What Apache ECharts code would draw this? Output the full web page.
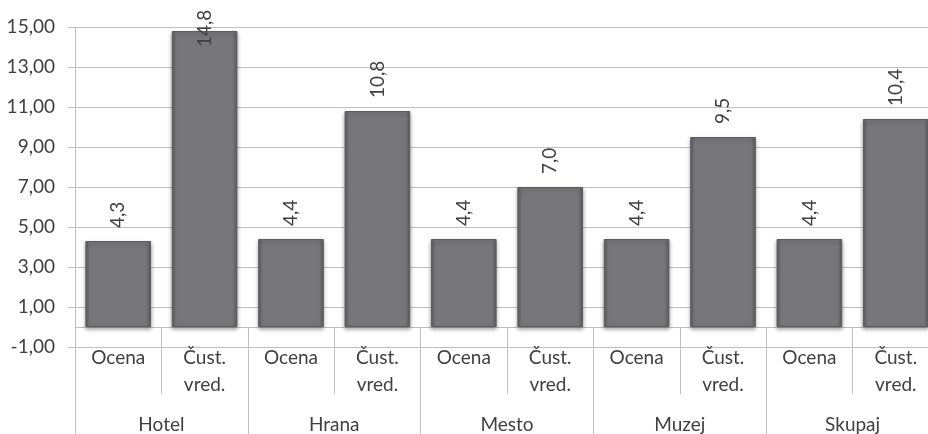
<!DOCTYPE html>
<html>
<head>
<meta charset="utf-8">
<script src="https://cdn.jsdelivr.net/npm/echarts@6/dist/echarts.min.js"></script>
<style>
  html, body { margin: 0; padding: 0; background: #fff; }
  #chart { width: 928px; height: 434px; }
</style>
</head>
<body>
<div id="chart"></div>
<script>
// data
const groups = ["Hotel", "Hrana", "Mesto", "Muzej", "Skupaj"];
const subLabels = ["Ocena", "Čust.\nvred."];
const values = [4.3, 14.8, 4.4, 10.8, 4.4, 7.0, 4.4, 9.5, 4.4, 10.4];
const yMin = -1;
const yMax = 15;
const yStep = 2;

const categories = [];
groups.forEach(() => subLabels.forEach((s) => categories.push(s)));

const textColor = "#404040";
const lineColor = "#bfbfbf";
const font = "Lato, 'Liberation Sans', sans-serif";

const chart = echarts.init(document.getElementById("chart"), null, { renderer: "canvas" });

const barColor = new echarts.graphic.LinearGradient(0, 0, 1, 0, [
  { offset: 0, color: "#5e5e61" },
  { offset: 0.07, color: "#77777a" },
  { offset: 0.93, color: "#77777a" },
  { offset: 1, color: "#5e5e61" },
]);

const fmt = (v) => String(v.toFixed(1)).replace(".", ",");

const option = {
  backgroundColor: "#fff",
  animation: false,
  // plot runs past the right edge, last bar is cut like in the source
  grid: { left: 75, top: 27, bottom: 87, width: 864, outerBoundsMode: "none" },
  xAxis: [
    {
      type: "category",
      data: categories,
      axisLine: { onZero: true, lineStyle: { color: lineColor, width: 1 } },
      axisTick: { show: true, interval: 0, length: 67, lineStyle: { color: lineColor } },
      axisLabel: {
        interval: 0,
        margin: -3,
        color: textColor,
        fontFamily: font,
        fontSize: 19,
        lineHeight: 27,
      },
    },
    {
      type: "category",
      data: groups,
      position: "bottom",
      axisLine: { show: false, onZero: false },
      axisTick: { show: true, interval: 0, length: 87, lineStyle: { color: lineColor } },
      axisLabel: {
        interval: 0,
        margin: 64,
        color: textColor,
        fontFamily: font,
        fontSize: 19,
        lineHeight: 27,
      },
    },
  ],
  yAxis: {
    type: "value",
    min: yMin,
    max: yMax,
    interval: yStep,
    axisLine: { show: true, lineStyle: { color: lineColor } },
    axisTick: { show: true, length: 7, lineStyle: { color: lineColor } },
    splitLine: { lineStyle: { color: lineColor, width: 1.2 } },
    axisLabel: {
      margin: 20,
      color: textColor,
      fontFamily: font,
      fontSize: 19,
      formatter: (v) => v.toFixed(2).replace(".", ","),
    },
  },
  series: [
    {
      type: "bar",
      xAxisIndex: 0,
      barCategoryGap: "24%",
      data: values.map((v) =>
        v > yMax - 1 ? { value: v, label: { distance: -16 } } : v
      ),
      itemStyle: {
        color: barColor,
        borderColor: "#5c5c5f",
        borderWidth: 1,
        shadowColor: "rgba(0,0,0,0.35)",
        shadowBlur: 4,
        shadowOffsetY: 2,
      },
      label: {
        show: true,
        position: "top",
        distance: 13,
        rotate: 90,
        align: "left",
        verticalAlign: "middle",
        color: textColor,
        fontFamily: font,
        fontSize: 19,
        formatter: (p) => fmt(p.value),
      },
    },
  ],
};

chart.setOption(option);
</script>
</body>
</html>
